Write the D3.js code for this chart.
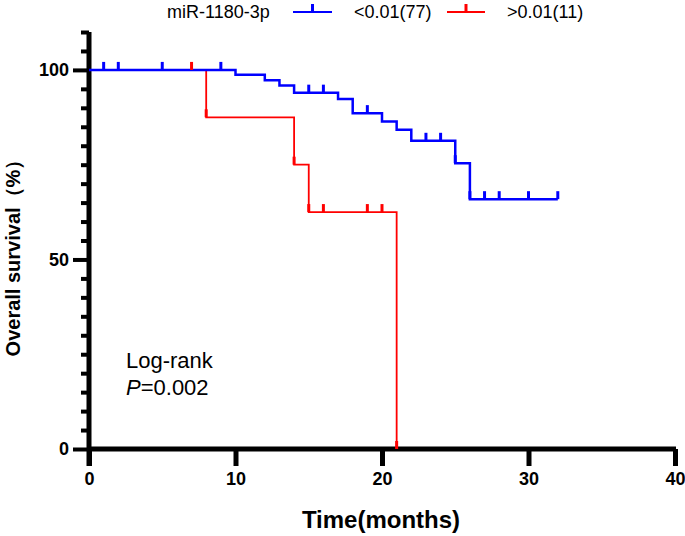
<!DOCTYPE html>
<html>
<head>
<meta charset="utf-8">
<script src="https://cdn.jsdelivr.net/npm/d3@7"></script>
<style>
  html, body { margin: 0; padding: 0; background: #fff; }
  svg { display: block; }
  text { font-family: "Liberation Sans", Arial, sans-serif; fill: #000; }
</style>
</head>
<body>
<div id="chart"></div>
<script>
// ---- data ----
const legendTitle = "miR-1180-3p";
const groupNames = ["<0.01(77)", ">0.01(11)"];
const groupColors = ["#0000ff", "#ff0000"];

const blueTimes = [0, 10, 12, 13, 14, 17, 18, 20, 21, 22, 25, 26, 32];
const blueSurv  = [100, 98.7, 97.3, 95.9, 94.0, 92.3, 88.6, 86.4, 84.2, 81.3, 75.4, 65.9, 65.9];
const blueCensor = [1, 2, 5, 9, 15, 16, 19, 23, 24, 25, 26, 27, 28, 30, 32];

const redTimes = [0, 8, 14, 15, 21];
const redSurv  = [100, 87.5, 75, 62.5, 0];
const redCensor = [7, 8, 14, 15, 16, 19, 20, 21];

const xTicks = [0, 10, 20, 30, 40];
const yTicks = [0, 50, 100];
const yMinorTicks = [5, 10, 15, 20, 25, 30, 35, 40, 45, 55, 60, 65, 70, 75, 80, 85, 90, 95, 105, 110];
const xTitle = "Time(months)";
const yTitle = "Overall survival（%）";
const annot1 = "Log-rank";
const annotP = "=0.002";

// ---- chart ----
const W = 685, H = 536;
const svg = d3.select("#chart").append("svg").attr("width", W).attr("height", H);

const x = d3.scaleLinear().domain([0, 40]).range([89, 675]);
const y = d3.scaleLinear().domain([0, 110]).range([449, 32]);

// axes
const axisG = svg.append("g");
axisG.append("line")
  .attr("x1", x(0)).attr("x2", x(0))
  .attr("y1", y(110)).attr("y2", y(0) + 17)
  .attr("stroke", "#000").attr("stroke-width", 5);
axisG.append("line")
  .attr("x1", x(0)).attr("x2", x(40) + 1)
  .attr("y1", y(0)).attr("y2", y(0))
  .attr("stroke", "#000").attr("stroke-width", 5);

const yMajor = svg.append("g").attr("transform", `translate(${x(0)},0)`)
  .call(d3.axisLeft(y).tickValues(yTicks).tickSize(16).tickPadding(3));
const yMinor = svg.append("g").attr("transform", `translate(${x(0)},0)`)
  .call(d3.axisLeft(y).tickValues(yMinorTicks).tickSize(8).tickFormat(""));
const xAxis = svg.append("g").attr("transform", `translate(0,${y(0)})`)
  .call(d3.axisBottom(x).tickValues(xTicks).tickSize(17).tickPadding(6));

[yMajor, yMinor, xAxis].forEach(g => {
  g.select(".domain").remove();
  g.selectAll(".tick line").attr("stroke", "#000").attr("stroke-width", 4);
  g.selectAll(".tick text")
    .style("font-family", "'Liberation Sans', Arial, sans-serif")
    .style("font-size", "18px").style("font-weight", "bold").attr("fill", "#000");
});
xAxis.selectAll(".tick line").attr("stroke-width", 5);
yMajor.selectAll(".tick text").attr("x", -20);
xAxis.selectAll(".tick text").attr("dy", "0.71em");

function stepPoints(times, surv) {
  const pts = [];
  for (let i = 0; i < times.length; i++) {
    if (i > 0) pts.push([times[i], surv[i - 1]]);
    pts.push([times[i], surv[i]]);
  }
  return pts;
}
function survAt(times, surv, t) {
  let v = surv[0];
  for (let i = 0; i < times.length; i++) if (times[i] <= t) v = surv[i];
  return v;
}
const line = d3.line().x(d => x(d[0])).y(d => y(d[1]));

svg.append("path").datum(stepPoints(redTimes, redSurv))
  .attr("d", line).attr("fill", "none")
  .attr("stroke", groupColors[1]).attr("stroke-width", 1.8);
svg.append("path").datum(stepPoints(blueTimes, blueSurv))
  .attr("d", line).attr("fill", "none")
  .attr("stroke", groupColors[0]).attr("stroke-width", 2.5);

function censor(times, surv, cts, color) {
  svg.append("g").selectAll("line").data(cts).join("line")
    .attr("x1", d => x(d)).attr("x2", d => x(d))
    .attr("y1", d => y(survAt(times, surv, d)))
    .attr("y2", d => y(survAt(times, surv, d)) - 8)
    .attr("stroke", color).attr("stroke-width", 3);
}
censor(blueTimes, blueSurv, blueCensor, groupColors[0]);
censor(redTimes, redSurv, redCensor, groupColors[1]);

svg.append("text").attr("x", (x(0) + x(40)) / 2 - 1).attr("y", 528)
  .attr("text-anchor", "middle").style("font-size", "24px").style("font-weight", "bold")
  .text(xTitle);
svg.append("text").attr("transform", `translate(20,253) rotate(-90)`)
  .attr("text-anchor", "middle").style("font-size", "20px").style("font-weight", "bold")
  .text(yTitle);

svg.append("text").attr("x", 126).attr("y", 368).style("font-size", "22px").text(annot1);
const pt = svg.append("text").attr("x", 126).attr("y", 395).style("font-size", "22px");
pt.append("tspan").style("font-style", "italic").text("P");
pt.append("tspan").text(annotP);

const lg = svg.append("g");
lg.append("text").attr("x", 167).attr("y", 18).style("font-size", "18px").text(legendTitle);
const legItems = [
  { x0: 293, x1: 332, tx: 354, name: groupNames[0], color: groupColors[0] },
  { x0: 447, x1: 485, tx: 507, name: groupNames[1], color: groupColors[1] }
];
legItems.forEach(it => {
  lg.append("line").attr("x1", it.x0).attr("x2", it.x1).attr("y1", 12).attr("y2", 12)
    .attr("stroke", it.color).attr("stroke-width", 2);
  lg.append("line").attr("x1", (it.x0 + it.x1) / 2).attr("x2", (it.x0 + it.x1) / 2)
    .attr("y1", 12).attr("y2", 4).attr("stroke", it.color).attr("stroke-width", 3);
  lg.append("text").attr("x", it.tx).attr("y", 18).style("font-size", "18px").text(it.name);
});
</script>
</body>
</html>
